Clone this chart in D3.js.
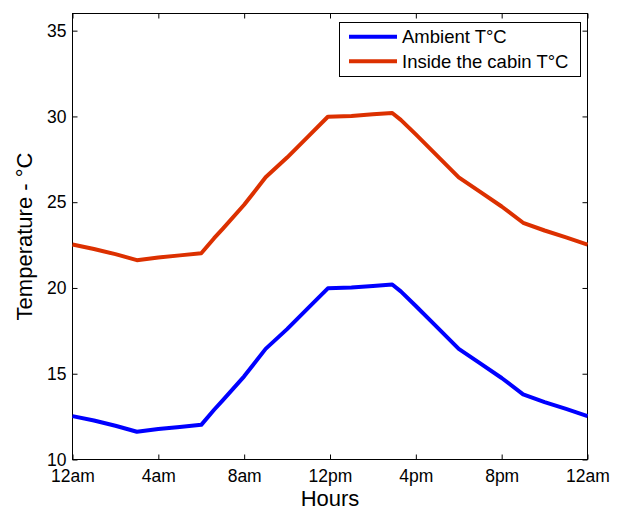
<!DOCTYPE html>
<html><head><meta charset="utf-8">
<script src="https://cdn.jsdelivr.net/npm/d3@7"></script>
<style>
html,body{margin:0;padding:0;background:#fff;}
text{font-family:Arial,"Liberation Sans",Helvetica,sans-serif;fill:#000;}
</style></head>
<body>
<svg id="chart" width="623" height="510"></svg>
<script>
// ---- data ----
const hours = [0, 1, 2, 3, 4, 5, 6, 6.6, 7, 8, 9, 10, 11, 11.9, 13, 14, 14.9, 15.3, 16, 17, 18, 19, 20, 21, 22, 23, 24];
const ambient = [12.53, 12.27, 11.97, 11.62, 11.78, 11.9, 12.02, 12.9, 13.45, 14.85, 16.45, 17.6, 18.85, 19.98, 20.03, 20.12, 20.2, 19.8, 18.95, 17.7, 16.45, 15.6, 14.75, 13.8, 13.35, 12.95, 12.53];
const inside = [22.53, 22.27, 21.97, 21.62, 21.78, 21.9, 22.02, 22.9, 23.45, 24.85, 26.45, 27.6, 28.85, 29.98, 30.03, 30.12, 30.2, 29.8, 28.95, 27.7, 26.45, 25.6, 24.75, 23.8, 23.35, 22.95, 22.53];
const xTickValues = [0, 4, 8, 12, 16, 20, 24];
const xTickLabels = ["12am", "4am", "8am", "12pm", "4pm", "8pm", "12am"];
const yTickValues = [10, 15, 20, 25, 30, 35];
const seriesNames = ["Ambient T°C", "Inside the cabin T°C"];
const seriesColors = ["#0000ff", "#dc3000"];

// ---- layout ----
const L = 72.5, R = 587.5, T = 13.5, B = 459.5;
const svg = d3.select("#chart");
const x = d3.scaleLinear().domain([0, 24]).range([L, R]);
const y = d3.scaleLinear().domain([10, 36]).range([B, T]);

// frame
svg.append("rect").attr("x", L).attr("y", T).attr("width", R - L).attr("height", B - T)
  .attr("fill", "none").attr("stroke", "#000").attr("stroke-width", 1);

// axes (ticks pointing inward)
const xAx = svg.append("g").attr("transform", `translate(0,${B})`)
  .call(d3.axisBottom(x).tickValues(xTickValues).tickSizeInner(-5).tickSizeOuter(0)
    .tickFormat((d, i) => xTickLabels[i]));
xAx.select(".domain").remove();
xAx.selectAll("text").attr("y", 10.5).attr("dy", "0.71em").attr("font-size", 17.5)
  .attr("font-family", "Arial,'Liberation Sans',sans-serif");
const xTop = svg.append("g").attr("transform", `translate(0,${T})`)
  .call(d3.axisTop(x).tickValues(xTickValues).tickSizeInner(-5).tickSizeOuter(0).tickFormat(""));
xTop.select(".domain").remove();

const yAx = svg.append("g").attr("transform", `translate(${L},0)`)
  .call(d3.axisLeft(y).tickValues(yTickValues).tickSizeInner(-5).tickSizeOuter(0));
yAx.select(".domain").remove();
yAx.selectAll("text").attr("x", -6).attr("font-size", 17.5)
  .attr("font-family", "Arial,'Liberation Sans',sans-serif");
const yR = svg.append("g").attr("transform", `translate(${R},0)`)
  .call(d3.axisRight(y).tickValues(yTickValues).tickSizeInner(-5).tickSizeOuter(0).tickFormat(""));
yR.select(".domain").remove();
svg.selectAll(".tick line").attr("stroke", "#000");

// lines
const line = d3.line().x((d, i) => x(hours[i])).y(d => y(d));
[ambient, inside].forEach((s, k) => {
  svg.append("path").datum(s).attr("d", line).attr("fill", "none")
    .attr("stroke", seriesColors[k]).attr("stroke-width", 4)
    .attr("stroke-linejoin", "round").attr("stroke-linecap", "butt");
});

// axis labels
svg.append("text").attr("x", (L + R) / 2).attr("y", 506).attr("text-anchor", "middle")
  .attr("font-size", 22).text("Hours");
svg.append("text").attr("transform", `translate(32,${(150 + 323) / 2}) rotate(-90)`)
  .attr("text-anchor", "middle").attr("font-size", 22).text("Temperature - °C");

// legend
const lg = svg.append("g");
lg.append("rect").attr("x", 339.5).attr("y", 22.5).attr("width", 241).attr("height", 54)
  .attr("fill", "#fff").attr("stroke", "#000").attr("stroke-width", 1);
seriesNames.forEach((n, k) => {
  const yy = 36.7 + k * 24.5;
  lg.append("line").attr("x1", 349).attr("x2", 397).attr("y1", yy).attr("y2", yy)
    .attr("stroke", seriesColors[k]).attr("stroke-width", 4);
  lg.append("text").attr("x", 402).attr("y", yy).attr("dy", "0.36em")
    .attr("font-size", 18.5).text(n);
});
</script>
</body></html>
